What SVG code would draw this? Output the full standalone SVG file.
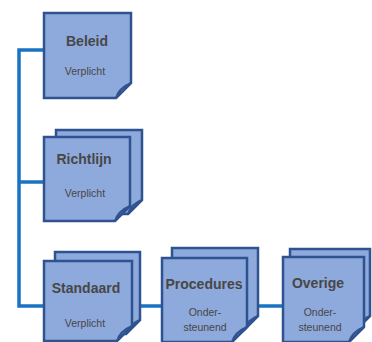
<svg xmlns="http://www.w3.org/2000/svg" width="372" height="342" viewBox="0 0 372 342">
<defs>
<style>
.sheet{fill:#8EA9DB;stroke:#2F5391;stroke-width:2.5;stroke-linejoin:miter}
.fold{fill:#5F7FC0;stroke:#2F5391;stroke-width:2}
.conn{fill:none;stroke:#1A72C2;stroke-width:3.5}
.t{font-family:"Liberation Sans",Arial,sans-serif;font-size:14px;font-weight:bold;fill:#474747;text-anchor:middle}
.s{font-family:"Liberation Sans",Arial,sans-serif;font-size:10.5px;fill:#474747;text-anchor:middle}
</style>
</defs>
<rect width="372" height="342" fill="#FFFFFF"/>
<g id="connectors">
<path class="conn" d="M44,50 H19 V306 H44"/>
<path class="conn" d="M19,182 H44"/>
<path class="conn" d="M131,306 H163"/>
<path class="conn" d="M246,306 H284"/>
</g>
<g id="beleid">
<path class="sheet" d="M44,13 H131 V83 L116,98 H44 Z"/>
<path class="fold" d="M131,83 L116,98 Q119,88 131,83 Z"/>
<text class="t" x="87" y="46">Beleid</text>
<text class="s" x="85" y="75">Verplicht</text>
</g>
<g id="richtlijn">
<path class="sheet" d="M56,130 H142 V200 L128,214 H56 Z"/>
<path class="fold" d="M142,200 L128,214 Q131,204 142,200 Z"/>
<path class="sheet" d="M44,137 H130 V206 L115,221 H44 Z"/>
<path class="fold" d="M130,206 L115,221 Q118,211 130,206 Z"/>
<text class="t" x="84" y="164">Richtlijn</text>
<text class="s" x="85" y="197">Verplicht</text>
</g>
<g id="standaard">
<path class="sheet" d="M55,252 H140 V320 L126,334 H55 Z"/>
<path class="fold" d="M140,320 L126,334 Q129,324 140,320 Z"/>
<path class="sheet" d="M44,261 H132 V326 L117,341 H44 Z"/>
<path class="fold" d="M132,326 L117,341 Q120,331 132,326 Z"/>
<text class="t" x="86" y="293">Standaard</text>
<text class="s" x="85" y="327">Verplicht</text>
</g>
<g id="procedures">
<path class="sheet" d="M172,248 H258 V316 L244,330 H172 Z"/>
<path class="fold" d="M258,316 L244,330 Q247,320 258,316 Z"/>
<path class="sheet" d="M162,258 H247 V327 L232,342 H162 Z"/>
<path class="fold" d="M247,327 L232,342 Q235,332 247,327 Z"/>
<text class="t" x="204" y="289">Procedures</text>
<text class="s" x="205" y="316">Onder-</text>
<text class="s" x="205" y="331">steunend</text>
</g>
<g id="overige">
<path class="sheet" d="M290,249 H370 V316 L356,330 H290 Z"/>
<path class="fold" d="M370,316 L356,330 Q359,320 370,316 Z"/>
<path class="sheet" d="M283,257 H364 V327 L349,342 H283 Z"/>
<path class="fold" d="M364,327 L349,342 Q352,332 364,327 Z"/>
<text class="t" x="318" y="288">Overige</text>
<text class="s" x="320" y="316">Onder-</text>
<text class="s" x="320" y="331">steunend</text>
</g>
</svg>
